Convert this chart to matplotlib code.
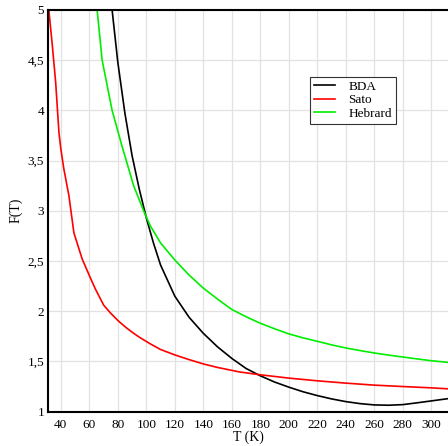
import matplotlib
matplotlib.use("Agg")
import matplotlib.pyplot as plt
from matplotlib.ticker import FuncFormatter

# BDA model
bda_t = [76.0, 80, 85, 90, 95, 100, 105, 110, 120, 130, 140, 150, 160, 170,
         180, 190, 200, 210, 220, 230, 240, 250, 260, 270, 280, 290, 300, 312]
bda_f = [5.0, 4.48, 3.97, 3.55, 3.22, 2.93, 2.68, 2.46, 2.15, 1.94, 1.78, 1.645,
         1.53, 1.43, 1.357, 1.295, 1.244, 1.198, 1.16, 1.127, 1.10, 1.08, 1.067,
         1.064, 1.07, 1.088, 1.107, 1.13]

# Sato model
sato_t = [31.6, 34.1, 36.4, 38.7, 40, 42.1, 45.7, 49.2, 55, 60.8, 64.3, 70.1,
          75, 80.6, 86, 91.1, 95.8, 102.8, 109.8, 120, 128.5, 140, 150, 165.5,
          180, 200, 220, 240, 260, 280, 300, 312]
sato_f = [5.0, 4.64, 4.28, 3.78, 3.62, 3.42, 3.15, 2.78, 2.52, 2.33, 2.22, 2.06,
          1.98, 1.90, 1.835, 1.78, 1.735, 1.675, 1.62, 1.565, 1.525, 1.475, 1.44,
          1.395, 1.367, 1.334, 1.307, 1.284, 1.264, 1.25, 1.237, 1.227]

# Hebrard model
heb_t = [65.5, 69, 76, 83, 87.6, 91.1, 98.1, 102.8, 110, 120, 130, 140, 150,
         160, 170, 180, 190, 200, 210, 220, 230, 240, 250, 260, 270, 280, 290,
         300, 312]
heb_f = [5.0, 4.5, 4.0, 3.64, 3.42, 3.25, 3.0, 2.85, 2.68, 2.51, 2.36, 2.23,
         2.12, 2.017, 1.945, 1.88, 1.825, 1.774, 1.735, 1.70, 1.665, 1.634,
         1.608, 1.584, 1.563, 1.544, 1.525, 1.507, 1.49]

x_ticks = list(range(40, 301, 20))
y_ticks = [1, 1.5, 2, 2.5, 3, 3.5, 4, 4.5, 5]

plt.rcParams['font.family'] = ['Liberation Serif', 'DejaVu Serif']

fig = plt.figure(figsize=(4.48, 4.46), dpi=100)
ax = fig.add_axes([0.108, 0.077, 0.892, 0.901])

ax.plot(bda_t, bda_f, color='black', lw=1.2, label='BDA')
ax.plot(sato_t, sato_f, color='#ff0000', lw=1.2, label='Sato')
ax.plot(heb_t, heb_f, color='#00ee00', lw=1.2, label='Hebrard')

ax.set_xlim(31.3, 311.7)
ax.set_ylim(1, 5)
ax.set_xticks(x_ticks)
ax.set_yticks(y_ticks)
ax.yaxis.set_major_formatter(FuncFormatter(lambda v, p: f"{v:g}".replace('.', ',')))
ax.tick_params(length=0, labelsize=9.5)
ax.tick_params(axis='x', pad=5)
ax.tick_params(axis='y', pad=3)
ax.grid(True, color='#e2e2e2', lw=0.9)
ax.set_axisbelow(True)

for side in ['left', 'bottom', 'top']:
    ax.spines[side].set_linewidth(1.5)
ax.spines['right'].set_visible(False)

ax.set_xlabel('T (K)', fontsize=10, labelpad=0)
ax.set_ylabel('F(T)', fontsize=10, labelpad=4)

leg = ax.legend(loc='upper right', bbox_to_anchor=(0.87, 0.834), fontsize=9.5,
                fancybox=False, framealpha=1, edgecolor='#333333',
                handlelength=1.6, borderpad=0.3, labelspacing=0.1,
                handletextpad=1.0, borderaxespad=0)
leg.get_frame().set_linewidth(0.8)

fig.savefig('out.png', dpi=100)
